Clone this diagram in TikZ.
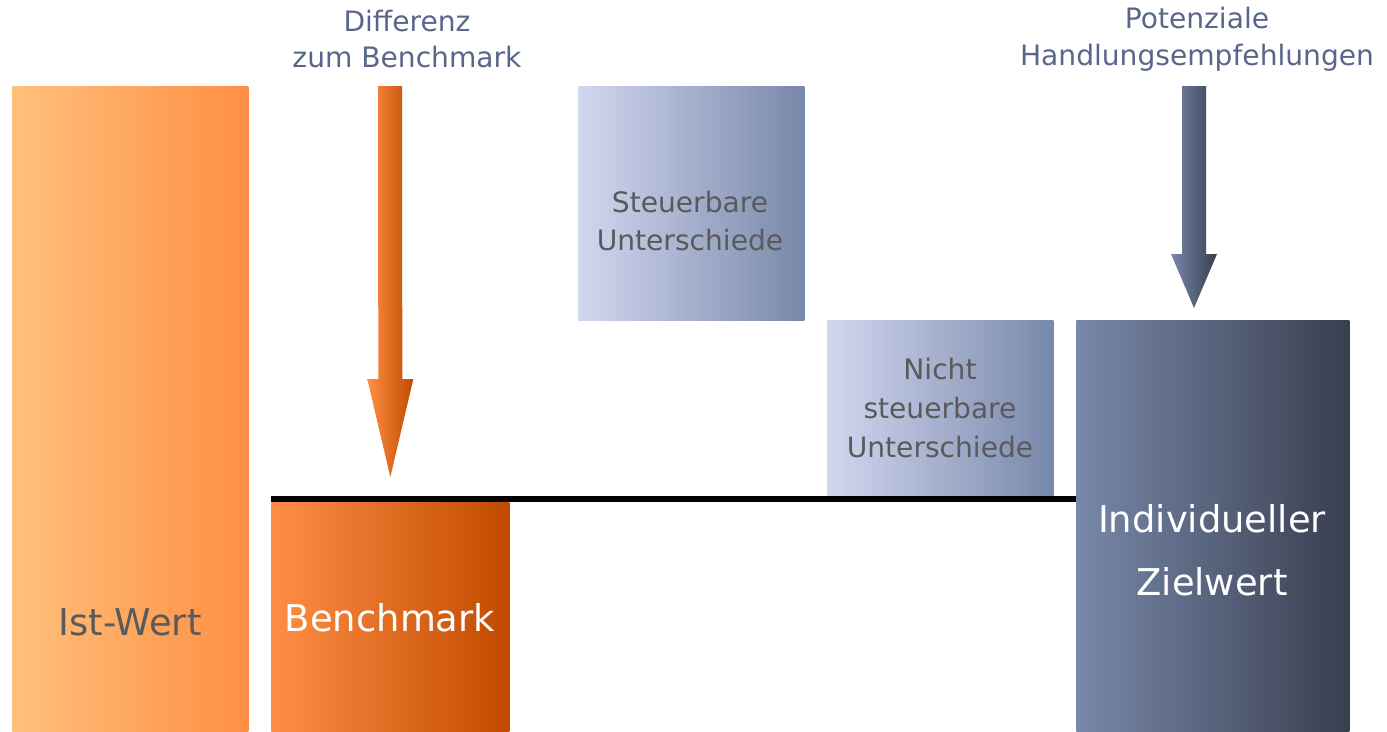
\documentclass[tikz,border=0pt]{standalone}
\usepackage{fontspec}
\setmainfont{DejaVu Sans}
\usetikzlibrary{calc}

\definecolor{orLight}{RGB}{255,192,124}
\definecolor{orMid}{RGB}{255,142,68}
\definecolor{orDark}{RGB}{192,74,0}
\definecolor{blLight}{RGB}{210,215,240}
\definecolor{blMid}{RGB}{120,136,170}
\definecolor{blDark}{RGB}{56,62,78}
\definecolor{capText}{RGB}{88,102,138}
\definecolor{boxText}{RGB}{90,90,90}

\tikzstyle{barNode} = [rectangle, inner sep=0pt, anchor=north west, draw=none]
\tikzstyle{barIst} = [barNode, left color=orLight, right color=orMid]
\tikzstyle{barBench} = [barNode, left color=orMid, right color=orDark]
\tikzstyle{barDiff} = [barNode, left color=blLight, right color=blMid]
\tikzstyle{barZiel} = [barNode, left color=blMid, right color=blDark]
\tikzstyle{capNode} = [align=center, text=capText, inner sep=0pt, font=\fontsize{16pt}{21pt}\selectfont]
\tikzstyle{boxTxt} = [align=center, text=boxText, inner sep=0pt, font=\fontsize{16pt}{22pt}\selectfont]
\tikzstyle{bigTxt} = [align=center, inner sep=0pt, font=\fontsize{21pt}{36pt}\selectfont]
\tikzstyle{baseLine} = [line width=0.12cm, draw=black]
\tikzstyle{arrowOr} = [left color=orMid, right color=orDark, draw=none]
\tikzstyle{arrowBl} = [left color=blMid, right color=blDark, draw=none]

\begin{document}
\begin{tikzpicture}[x=0.02cm, y=-0.02cm]
        \useasboundingbox (0,0) rectangle (1387,731);

        \node (ist) [barIst, minimum width=4.72cm, minimum height=12.9cm] at (12,86) {};
        \node (bench) [barBench, minimum width=4.76cm, minimum height=4.58cm] at (271,502) {};
        \node (steuer) [barDiff, minimum width=4.52cm, minimum height=4.68cm] at (578,86) {};
        \node (nicht) [barDiff, minimum width=4.52cm, minimum height=3.52cm] at (827,320) {};
        \node (ziel) [barZiel, minimum width=5.46cm, minimum height=8.22cm] at (1076,320) {};

        \coordinate (lineL) at ($(bench.north west)+(0,-3)$);
        \draw [baseLine] (lineL) -- (lineL -| ziel.west);

        \node (istLbl) [bigTxt, text=boxText] at (130,622) {Ist-Wert};
        \node (benchLbl) [bigTxt, text=white] at (390,618) {Benchmark};
        \node (steuerLbl) [boxTxt] at (690,221) {Steuerbare\\Unterschiede};
        \node (nichtLbl) [boxTxt] at (940,408) {Nicht\\steuerbare\\Unterschiede};
        \node (zielLbl) [bigTxt, text=white] at (1212,550) {Individueller\\Zielwert};

        \node (diffCap) [capNode] at (407,39) {Differenz\\zum Benchmark};
        \node (potCap) [capNode] at (1197,39) {Potenziale\\Handlungsempfehlungen};

        % fat arrows
        \coordinate (oTop) at (390,86);
        \coordinate (oTip) at ($(bench.north)+(0,-25)$);
        \path [arrowOr] ($(oTop)+(-12,0)$) -- ($(oTop)+(12,0)$) -- ($(oTip)+(12,-98)$) -- ($(oTip)+(23,-98)$)
            -- (oTip) -- ($(oTip)+(-23,-98)$) -- ($(oTip)+(-12,-98)$) -- cycle;

        \coordinate (bTop) at (1194,86);
        \coordinate (bTip) at ($(ziel.north west)+(118,-12)$);
        \path [arrowBl] ($(bTop)+(-12,0)$) -- ($(bTop)+(12,0)$) -- ($(bTip)+(12,-54)$) -- ($(bTip)+(23,-54)$)
            -- (bTip) -- ($(bTip)+(-23,-54)$) -- ($(bTip)+(-12,-54)$) -- cycle;

    \end{tikzpicture}
\end{document}
